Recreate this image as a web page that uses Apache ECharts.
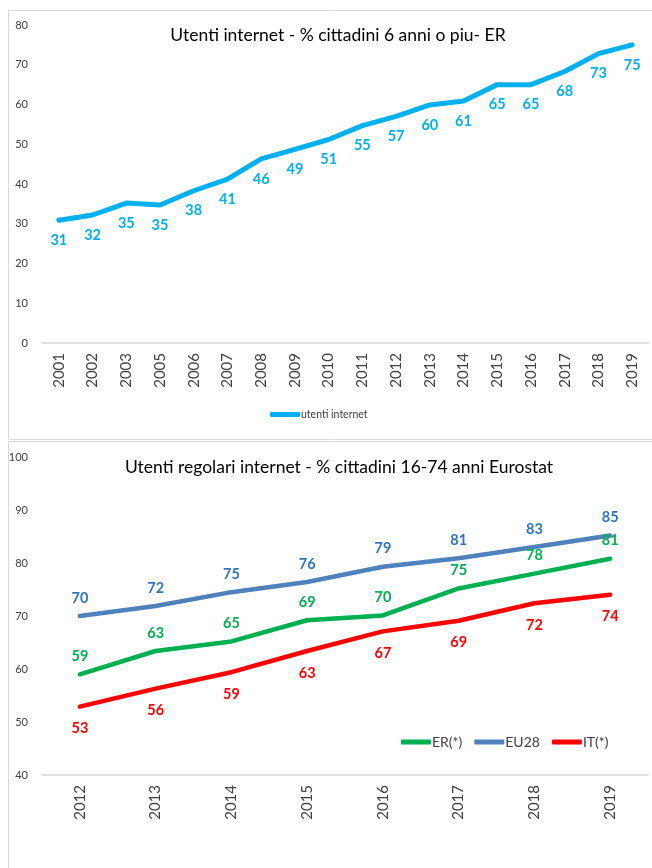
<!DOCTYPE html>
<html>
<head>
<meta charset="utf-8">
<script src="https://cdn.jsdelivr.net/npm/echarts@6/dist/echarts.min.js"></script>
<style>
html,body{margin:0;padding:0;background:#fff;}
#c{width:652px;height:868px;}
</style>
</head>
<body>
<div id="c"></div>
<script>
// Top chart data
var yearsTop = ['2001','2002','2003','2005','2006','2007','2008','2009','2010','2011','2012','2013','2014','2015','2016','2017','2018','2019'];
var utentiInternet = [30.9, 32.2, 35.2, 34.7, 38.3, 41.2, 46.3, 48.7, 51.2, 54.7, 57.0, 59.9, 60.9, 65.0, 65.0, 68.3, 72.8, 75.0];
var topTicks = [0, 10, 20, 30, 40, 50, 60, 70, 80];

// Bottom chart data
var yearsBottom = ['2012','2013','2014','2015','2016','2017','2018','2019'];
var er = [59.0, 63.4, 65.2, 69.2, 70.1, 75.2, 78.0, 80.8];
var eu28 = [70.0, 71.9, 74.5, 76.4, 79.3, 80.9, 83.0, 85.2];
var it = [52.9, 56.3, 59.4, 63.4, 67.1, 69.1, 72.4, 74.0];
var bottomTicks = [40, 50, 60, 70, 80, 90, 100];

var FONT = 'Lato, "Open Sans", sans-serif';
var chart = echarts.init(document.getElementById('c'), null, {renderer:'canvas'});

function roundFmt(p){ return Math.round(p.value); }

function lineSeries(name, data, color, labelColor, pos, xi, yi, width, dist){
  return {
    name: name, type: 'line', data: data,
    xAxisIndex: xi, yAxisIndex: yi,
    symbol: 'circle', symbolSize: 1, showSymbol: true,
    itemStyle: {color: color},
    lineStyle: {color: color, width: width, cap: 'round', join: 'round'},
    label: {show: true, position: pos, distance: dist, formatter: roundFmt,
            color: labelColor, fontFamily: FONT, fontWeight: 'bold', fontSize: 14.5},
    emphasis: {disabled: true},
    animation: false
  };
}

var axisLabelY = {color: '#404040', fontFamily: FONT, fontSize: 11, margin: 14};
var axisLabelX = {color: '#404040', fontFamily: FONT, fontSize: 15, rotate: 90, margin: 10, interval: 0};

chart.setOption({
  animation: false,
  backgroundColor: '#fff',
  title: [
    {text: 'Utenti internet - % cittadini 6 anni o piu- ER', left: 333, top: 21, textAlign: 'center',
     textStyle: {fontFamily: FONT, fontSize: 17.5, fontWeight: 'normal', color: '#000'}},
    {text: 'Utenti regolari internet - % cittadini 16-74 anni Eurostat', left: 334, top: 453, textAlign: 'center',
     textStyle: {fontFamily: FONT, fontSize: 17.5, fontWeight: 'normal', color: '#000'}}
  ],
  legend: [
    {data: ['utenti internet'], left: 265, top: 404, itemWidth: 30, itemHeight: 5, icon: 'roundRect',
     itemGap: 2, textStyle: {fontFamily: FONT, fontSize: 10.5, color: '#404040', padding: [0,0,0,-4]}},
    {data: ['ER(*)', 'EU28', 'IT(*)'], left: 396, top: 730, itemWidth: 30, itemHeight: 5, icon: 'roundRect',
     itemGap: 12, textStyle: {fontFamily: FONT, fontSize: 14, color: '#404040', padding: [0,0,0,-4]}}
  ],
  grid: [
    {left: 42, right: 3, top: 25, height: 318},
    {left: 42, right: 4, top: 457, height: 318}
  ],
  xAxis: [
    {type: 'category', gridIndex: 0, data: yearsTop, boundaryGap: true,
     axisLine: {lineStyle: {color: '#d9d9d9', width: 1.5}}, axisTick: {show: false}, axisLabel: axisLabelX},
    {type: 'category', gridIndex: 1, data: yearsBottom, boundaryGap: true,
     axisLine: {lineStyle: {color: '#d9d9d9', width: 1.5}}, axisTick: {show: false}, axisLabel: axisLabelX}
  ],
  yAxis: [
    {type: 'value', gridIndex: 0, min: topTicks[0], max: topTicks[topTicks.length-1], interval: 10,
     axisLine: {show: false}, axisTick: {show: false}, splitLine: {show: false}, axisLabel: axisLabelY},
    {type: 'value', gridIndex: 1, min: bottomTicks[0], max: bottomTicks[bottomTicks.length-1], interval: 10,
     axisLine: {show: false}, axisTick: {show: false}, splitLine: {show: false}, axisLabel: axisLabelY}
  ],
  series: [
    lineSeries('utenti internet', utentiInternet, '#00B0F0', '#00B0F0', 'bottom', 0, 0, 5, 12),
    lineSeries('ER(*)', er, '#00B050', '#00B050', 'top', 1, 1, 4.5, 10),
    lineSeries('EU28', eu28, '#4F81BD', '#2E75C6', 'top', 1, 1, 4.5, 10),
    lineSeries('IT(*)', it, '#FF0000', '#FF0000', 'bottom', 1, 1, 4.5, 14)
  ],
  graphic: [
    {type: 'rect', silent: true, z: -1, shape: {x: 8.5, y: 10.5, width: 700, height: 429},
     style: {fill: null, stroke: '#d9d9d9', lineWidth: 1}},
    {type: 'rect', silent: true, z: -1, shape: {x: 8.5, y: 441.5, width: 700, height: 500},
     style: {fill: null, stroke: '#d9d9d9', lineWidth: 1}}
  ]
});
</script>
</body>
</html>
